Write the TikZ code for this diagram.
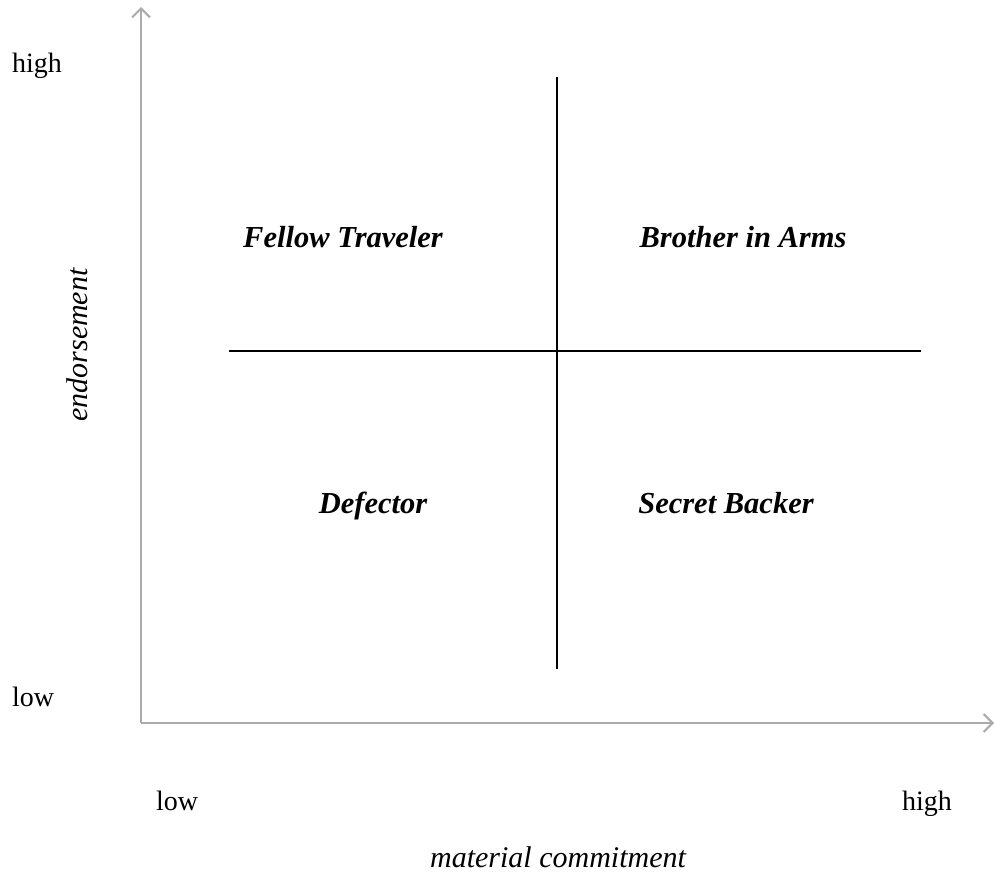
\documentclass[tikz,border=0pt]{standalone}
\usepackage{fontspec}
\setmainfont{Liberation Serif}
\usetikzlibrary{arrows.meta}
\begin{document}
\begin{tikzpicture}[x=1bp,y=-1bp,
  axis/.style={draw=black!33,line width=2bp,-{Straight Barb[length=9bp,width=18bp,line width=2bp]}},
  quad/.style={draw=black,line width=2bp},
  lbl/.style={inner sep=0pt,font=\fontsize{28bp}{34bp}\selectfont},
  qlbl/.style={inner sep=0pt,anchor=base,font=\fontsize{30.5bp}{36bp}\selectfont\bfseries\itshape},
  ttl/.style={inner sep=0pt,font=\fontsize{30bp}{36bp}\selectfont\itshape}]
\useasboundingbox (0,0) rectangle (995,876);
\coordinate (O) at (141,723);
\coordinate (Ytop) at (141,7);
\coordinate (Xend) at (994,723);
\draw[axis] (O) -- (Ytop);
\draw[axis] (O) -- (Xend);
\coordinate (vt) at (557,77);
\coordinate (vb) at (557,669);
\coordinate (hl) at (229,351);
\coordinate (hr) at (921,351);
\draw[quad] (vt) -- (vb);
\draw[quad] (hl) -- (hr);
\node[lbl,anchor=base west] (yhigh) at (12,72) {high};
\node[lbl,anchor=base west] (ylow) at (12,706) {low};
\node[lbl,anchor=base west] (xlow) at (156,810) {low};
\node[lbl,anchor=base west] (xhigh) at (902,810) {high};
\node[ttl,anchor=base] (xtitle) at (558,867) {material commitment};
\node[ttl,anchor=base,rotate=90] (ytitle) at (87,345) {endorsement};
\node[qlbl] (ft) at (343,247) {Fellow Traveler};
\node[qlbl] (ba) at (743,247) {Brother in Arms};
\node[qlbl] (de) at (373,513) {Defector};
\node[qlbl] (sb) at (726,513) {Secret Backer};
\end{tikzpicture}
\end{document}
